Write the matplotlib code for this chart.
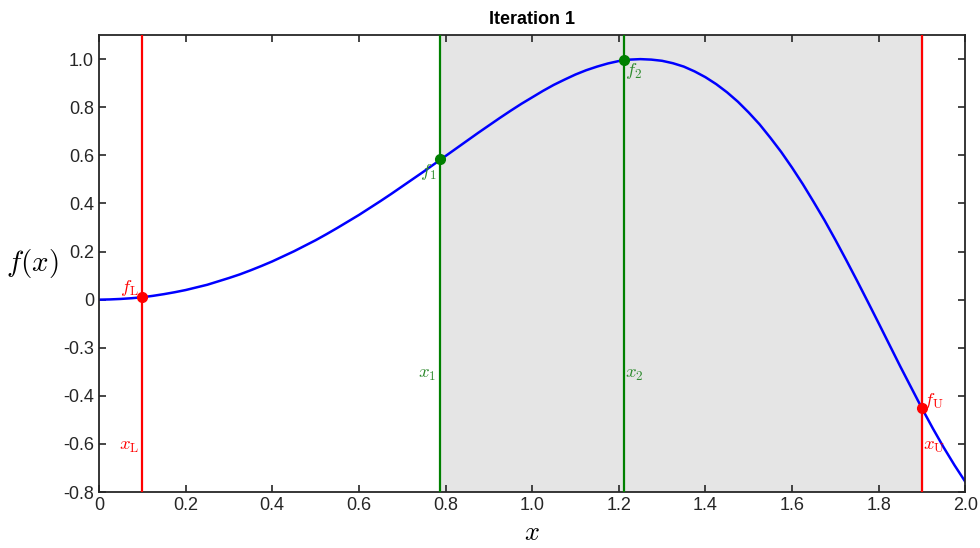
import matplotlib
matplotlib.use("Agg")
import matplotlib.pyplot as plt

plt.rcParams['font.family'] = ['Liberation Sans', 'DejaVu Sans']
plt.rcParams['mathtext.fontset'] = 'cm'

# curve
xs = [0.000, 0.025, 0.050, 0.075, 0.100, 0.125, 0.150, 0.175, 0.200, 0.225,
      0.250, 0.275, 0.300, 0.325, 0.350, 0.375, 0.400, 0.425, 0.450, 0.475,
      0.500, 0.525, 0.550, 0.575, 0.600, 0.625, 0.650, 0.675, 0.700, 0.725,
      0.750, 0.775, 0.800, 0.825, 0.850, 0.875, 0.900, 0.925, 0.950, 0.975,
      1.000, 1.025, 1.050, 1.075, 1.100, 1.125, 1.150, 1.175, 1.200, 1.225,
      1.250, 1.275, 1.300, 1.325, 1.350, 1.375, 1.400, 1.425, 1.450, 1.475,
      1.500, 1.525, 1.550, 1.575, 1.600, 1.625, 1.650, 1.675, 1.700, 1.725,
      1.750, 1.775, 1.800, 1.825, 1.850, 1.875, 1.900, 1.925, 1.950, 1.975,
      2.000]
fx = [0.000, 0.001, 0.003, 0.006, 0.010, 0.016, 0.023, 0.031, 0.040, 0.051,
      0.062, 0.076, 0.090, 0.105, 0.122, 0.140, 0.159, 0.180, 0.201, 0.224,
      0.247, 0.272, 0.298, 0.325, 0.352, 0.381, 0.410, 0.440, 0.471, 0.502,
      0.533, 0.565, 0.597, 0.629, 0.661, 0.693, 0.724, 0.755, 0.785, 0.814,
      0.841, 0.868, 0.893, 0.915, 0.936, 0.954, 0.969, 0.982, 0.992, 0.998,
      1.000, 0.998, 0.993, 0.983, 0.969, 0.949, 0.925, 0.896, 0.862, 0.823,
      0.778, 0.729, 0.673, 0.614, 0.549, 0.480, 0.406, 0.330, 0.249, 0.165,
      0.079, -0.009, -0.098, -0.188, -0.278, -0.365, -0.452, -0.535, -0.614, -0.688,
      -0.757]

# golden section points
xL, xU = 0.1, 1.9
x1, x2 = 0.7876, 1.2124
fL, fU = 0.010, -0.452
f1, f2 = 0.583, 0.995

yticks = [-0.8, -0.6, -0.4, -0.2, 0, 0.2, 0.4, 0.6, 0.8, 1.0]
ytick_labels = ['-0.8', '-0.6', '-0.4', '-0.3', '0', '0.2', '0.4', '0.6', '0.8', '1.0']
xticks = [0, 0.2, 0.4, 0.6, 0.8, 1.0, 1.2, 1.4, 1.6, 1.8, 2.0]
xtick_labels = ['0', '0.2', '0.4', '0.6', '0.8', '1.0', '1.2', '1.4', '1.6', '1.8', '2.0']

red = '#ff0000'
green = '#008000'
lbl_green = '#2e8b2e'

fig = plt.figure(figsize=(9.8, 5.48), dpi=100)
ax = fig.add_axes([0.101, 0.102, 0.884, 0.834])

ax.axvspan(x1, xU, color='#e5e5e5', zorder=0)
ax.plot(xs, fx, color='#0000ff', lw=1.8, zorder=2)

ax.axvline(xL, color=red, lw=1.6, zorder=3)
ax.axvline(xU, color=red, lw=1.6, zorder=3)
ax.axvline(x1, color=green, lw=1.6, zorder=3)
ax.axvline(x2, color=green, lw=1.6, zorder=3)

ax.plot([xL, xU], [fL, fU], 'o', color=red, ms=7, zorder=4)
ax.plot([x1, x2], [f1, f2], 'o', color=green, ms=7, zorder=4)

fs = 13.5
ax.text(xL - 0.008, 0.05, r'$f_{\mathrm{L}}$', color=red, fontsize=fs, ha='right', va='center')
ax.text(xL - 0.008, -0.61, r'$x_{\mathrm{L}}$', color=red, fontsize=fs, ha='right', va='center')
ax.text(xU + 0.002, -0.42, r'$f_{\mathrm{U}}$', color=red, fontsize=fs, ha='left', va='center')
ax.text(xU + 0.002, -0.61, r'$x_{\mathrm{U}}$', color=red, fontsize=fs, ha='left', va='center')
ax.text(x1 - 0.008, 0.53, r'$f_1$', color=lbl_green, fontsize=fs, ha='right', va='center')
ax.text(x1 - 0.008, -0.31, r'$x_1$', color=lbl_green, fontsize=fs, ha='right', va='center')
ax.text(x2 + 0.002, 0.95, r'$f_2$', color=lbl_green, fontsize=fs, ha='left', va='center')
ax.text(x2 + 0.002, -0.31, r'$x_2$', color=lbl_green, fontsize=fs, ha='left', va='center')

ax.set_xlim(0, 2.0)
ax.set_ylim(-0.8, 1.1)
ax.set_xticks(xticks)
ax.set_xticklabels(xtick_labels)
ax.set_yticks(yticks)
ax.set_yticklabels(ytick_labels)
ax.tick_params(direction='in', top=True, right=True, length=5, width=1.2,
               labelsize=13, colors='#262626')
for s in ax.spines.values():
    s.set_linewidth(1.3)
    s.set_color('#262626')

ax.set_title('Iteration 1', fontsize=13, fontweight='bold', pad=8)
ax.set_xlabel(r'$x$', fontsize=19, labelpad=5)
ax.set_ylabel(r'$f(x)$', fontsize=21, rotation=0, labelpad=22, va='center')

fig.savefig('out.png', dpi=100)
